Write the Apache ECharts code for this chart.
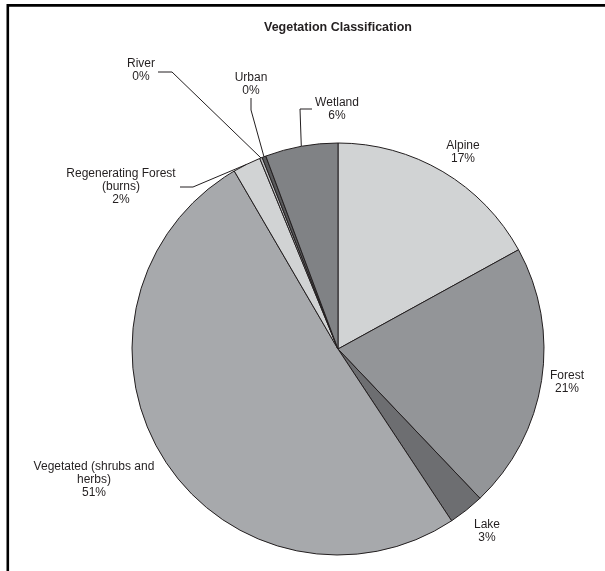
<!DOCTYPE html>
<html>
<head>
<meta charset="utf-8">
<script src="https://cdn.jsdelivr.net/npm/echarts@6/dist/echarts.min.js"></script>
<style>
  html, body { margin: 0; padding: 0; background: #ffffff; }
  #chart { width: 605px; height: 571px; }
</style>
</head>
<body>
<div id="chart"></div>
<script>
// Land cover classes, clockwise from twelve o'clock, and their share of the area (%)
const categories = [
  'Alpine',
  'Forest',
  'Lake',
  'Vegetated (shrubs and\nherbs)',
  'Regenerating Forest\n(burns)',
  'River',
  'Urban',
  'Wetland'
];
const shares = [17.0, 20.9, 2.8, 50.9, 2.2, 0.2, 0.3, 5.7];

// Slice fills, one per class
const fills = ['#d1d3d4', '#939598', '#6d6e71', '#a7a9ac', '#d1d3d4', '#bcbec0', '#58595b', '#808285'];

// Label placement (centre of each text block) and leader elbows for the small classes
const labelSpots = [
  { x: 463, y: 152 },
  { x: 567, y: 382 },
  { x: 487, y: 531 },
  { x: 94,  y: 480 },
  { x: 121, y: 187, line: [[193, 187], [180, 187]] },
  { x: 141, y: 70,  line: [[172, 72], [158, 72]] },
  { x: 251, y: 84,  line: [[251, 110], [251, 98]] },
  { x: 337, y: 109, line: [[300, 109], [312, 109]] }
];
const withLeader = [false, false, false, false, true, true, true, true];

const FONT = '"Liberation Sans", Arial, Helvetica, sans-serif';
const INK = '#231f20';
const total = shares.reduce((a, b) => a + b, 0);

const chart = echarts.init(document.getElementById('chart'), null, { renderer: 'canvas' });

chart.setOption({
  animation: false,
  backgroundColor: '#ffffff',
  graphic: [
    {
      // frame around the figure (only the top and left edges fall inside the page)
      type: 'rect',
      shape: { x: 7.8, y: 5.4, width: 900, height: 900 },
      style: { fill: 'none', stroke: '#000000', lineWidth: 2.6 },
      silent: true
    },
    {
      type: 'text',
      x: 338,
      y: 28,
      style: {
        text: 'Vegetation Classification',
        font: 'bold 12.5px ' + FONT,
        fill: INK,
        textAlign: 'center',
        textVerticalAlign: 'middle'
      },
      silent: true
    }
  ],
  series: [
    {
      type: 'pie',
      center: [338, 349],
      radius: 206,
      startAngle: 90,
      clockwise: true,
      avoidLabelOverlap: false,
      silent: true,
      itemStyle: { borderColor: INK, borderWidth: 1 },
      label: {
        show: true,
        position: 'outside',
        color: INK,
        fontFamily: FONT,
        fontSize: 12,
        lineHeight: 13,
        align: 'center',
        formatter: function (p) {
          return p.name + '\n' + Math.round(p.value / total * 100) + '%';
        }
      },
      labelLine: { show: false, smooth: false, lineStyle: { color: INK, width: 1 } },
      labelLayout: function (p) {
        const spot = labelSpots[p.dataIndex];
        const out = { x: spot.x, y: spot.y, align: 'center', verticalAlign: 'middle' };
        if (spot.line && p.labelLinePoints) {
          out.labelLinePoints = [p.labelLinePoints[0], spot.line[0], spot.line[1]];
        }
        return out;
      },
      data: categories.map(function (name, i) {
        return {
          name: name,
          value: shares[i],
          itemStyle: { color: fills[i] },
          labelLine: { show: withLeader[i], length: 10, length2: 10 }
        };
      })
    }
  ]
});
</script>
</body>
</html>
